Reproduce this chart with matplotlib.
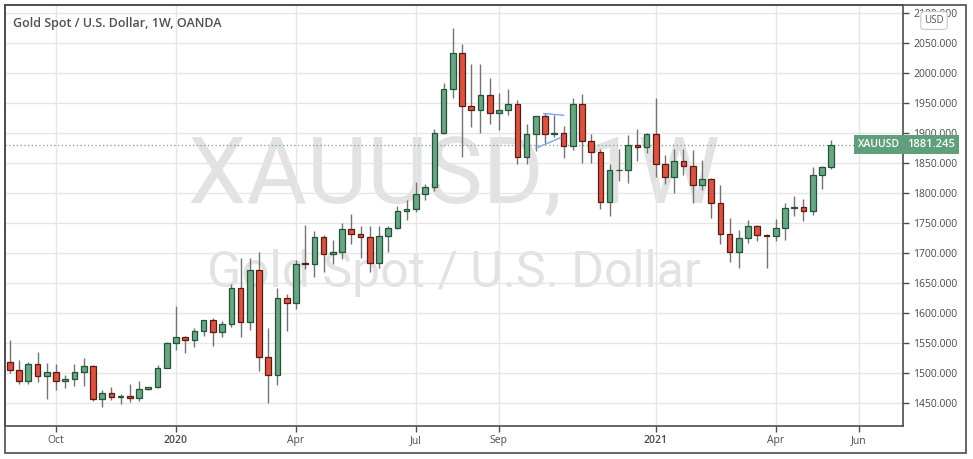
import pandas as pd
import matplotlib
matplotlib.use('Agg')
import matplotlib.pyplot as plt
import matplotlib.dates as mdates
from matplotlib.patches import Rectangle

# weekly OHLC, XAUUSD (first week starts 2019-09-02)
opens = [1519, 1506, 1488, 1516, 1496, 1503, 1488, 1490, 1503, 1513,
         1458, 1468, 1461, 1463, 1459, 1474, 1477, 1509, 1551, 1561,
         1556, 1571, 1589, 1569, 1583, 1643, 1586, 1673, 1528, 1498,
         1626, 1618, 1684, 1683, 1728, 1699, 1702, 1741, 1733, 1728,
         1684, 1729, 1743, 1771, 1774, 1798, 1810, 1901, 1974, 2034,
         1945, 1939, 1964, 1933, 1939, 1949, 1861, 1898, 1929, 1898,
         1901, 1878, 1949, 1887, 1869, 1786, 1838, 1839, 1881, 1877,
         1898, 1848, 1827, 1854, 1846, 1813, 1823, 1783, 1733, 1703,
         1726, 1745, 1731, 1729, 1743, 1776, 1777, 1771, 1831, 1843]
highs = [1556, 1523, 1519, 1535, 1518, 1516, 1498, 1516, 1525, 1514,
         1473, 1478, 1466, 1483, 1487, 1478, 1514, 1553, 1612, 1562,
         1576, 1589, 1592, 1587, 1649, 1692, 1692, 1703, 1575, 1643,
         1632, 1689, 1747, 1738, 1730, 1723, 1751, 1765, 1745, 1745,
         1745, 1745, 1778, 1788, 1818, 1815, 1907, 1983, 2075, 2049,
         2015, 2015, 1992, 1967, 1973, 1955, 1916, 1929, 1933, 1930,
         1912, 1959, 1965, 1898, 1874, 1848, 1874, 1897, 1907, 1901,
         1958, 1863, 1874, 1874, 1872, 1855, 1826, 1814, 1759, 1739,
         1755, 1747, 1732, 1758, 1783, 1796, 1790, 1843, 1846, 1889]
lows = [1501, 1482, 1482, 1485, 1457, 1473, 1475, 1479, 1479, 1454,
        1444, 1455, 1449, 1452, 1454, 1473, 1476, 1509, 1539, 1534,
        1544, 1562, 1546, 1561, 1577, 1561, 1573, 1504, 1450, 1480,
        1570, 1607, 1674, 1661, 1669, 1682, 1690, 1716, 1692, 1669,
        1676, 1702, 1741, 1756, 1769, 1788, 1804, 1898, 1959, 1860,
        1911, 1901, 1916, 1905, 1930, 1848, 1848, 1870, 1883, 1893,
        1859, 1872, 1850, 1850, 1773, 1762, 1820, 1817, 1854, 1867,
        1827, 1815, 1801, 1830, 1784, 1805, 1759, 1715, 1686, 1676,
        1717, 1721, 1676, 1721, 1722, 1762, 1754, 1764, 1807, 1841]
closes = [1506, 1488, 1516, 1496, 1503, 1488, 1490, 1503, 1513, 1458,
          1468, 1461, 1463, 1459, 1474, 1477, 1509, 1551, 1561, 1556,
          1571, 1589, 1569, 1583, 1643, 1586, 1673, 1528, 1498, 1626,
          1618, 1683, 1683, 1728, 1699, 1702, 1741, 1733, 1728, 1684,
          1729, 1743, 1771, 1774, 1798, 1810, 1901, 1974, 2034, 1945,
          1939, 1964, 1933, 1939, 1949, 1861, 1898, 1929, 1898, 1901,
          1878, 1949, 1887, 1869, 1786, 1838, 1839, 1881, 1877, 1898,
          1848, 1827, 1854, 1846, 1813, 1823, 1783, 1733, 1703, 1726,
          1745, 1731, 1729, 1743, 1776, 1777, 1771, 1831, 1843, 1881.245]

dates = pd.date_range('2019-09-02', periods=len(closes), freq='7D')

tick_dates = ['2019-10-07', '2020-01-06', '2020-04-06', '2020-07-06',
              '2020-09-07', '2021-01-04', '2021-04-05', '2021-06-07']
tick_labels = ['Oct', '2020', 'Apr', 'Jul', 'Sep', '2021', 'Apr', 'Jun']
price_ticks = list(range(1450, 2101, 50))

# the little triangle drawing
tri_top = [('2020-10-11', 1933), ('2020-10-26', 1930)]
tri_low = [('2020-10-05', 1875), ('2020-10-24', 1893)]

UP, UP_EDGE = '#6ba583', '#225437'
DN, DN_EDGE = '#d75442', '#5b1a13'
WICK = '#737375'
FRAME = '#4d4d4d'
TXT = '#4a4a4a'

plt.rcParams['font.family'] = ['Open Sans', 'DejaVu Sans']

fig = plt.figure(figsize=(9.73, 4.59), dpi=100)
ax = fig.add_axes([5 / 973, 33.3 / 459, 897.7 / 973, 421 / 459])

x = mdates.date2num(dates)
up = [c >= o for o, c in zip(opens, closes)]
bottoms = [min(o, c) for o, c in zip(opens, closes)]
heights = [max(abs(c - o), 1.2) for o, c in zip(opens, closes)]

ax.vlines(x, lows, highs, color=WICK, lw=1, zorder=2)
ax.bar(x, heights, bottom=bottoms, width=4.3,
       color=[UP if u else DN for u in up],
       edgecolor=[UP_EDGE if u else DN_EDGE for u in up],
       linewidth=0.9, zorder=3)

# last price dotted line + labels
last = closes[-1]
ax.axhline(last, color=UP, lw=0.9, ls=(0, (1, 2)), zorder=1.5)
ax.annotate('XAUUSD', xy=(0.9965, last), xycoords=('axes fraction', 'data'),
            ha='right', va='center', color='white', fontsize=7.5,
            fontweight='semibold', zorder=6,
            bbox=dict(boxstyle='square,pad=0.35', fc='#5f9f7c', ec='none'))
ax.annotate(f'{last:.3f}', xy=(1.0045, last), xycoords=('axes fraction', 'data'),
            ha='left', va='center', color='white', fontsize=8,
            fontweight='semibold', zorder=6, annotation_clip=False,
            bbox=dict(boxstyle='square,pad=0.35', fc='#5f9f7c', ec='none'))

ax.plot(mdates.datestr2num([d for d, _ in tri_top]), [p for _, p in tri_top],
        color='#7ea3e6', lw=1, zorder=4)
ax.plot(mdates.datestr2num([d for d, _ in tri_low]), [p for _, p in tri_low],
        color='#7ea3e6', lw=1, zorder=4)

# watermark
ax.text(0.5, 0.528, 'XAUUSD, 1W', transform=ax.transAxes, ha='center',
        va='baseline', fontsize=67, color='#e2e2e2', family='Roboto', zorder=0.2)
ax.text(0.5, 0.329, 'Gold Spot / U.S. Dollar', transform=ax.transAxes,
        ha='center', va='baseline', fontsize=36, color='#e2e2e2',
        family='Roboto', zorder=0.2)

ax.text(0.0093, 0.946, 'Gold Spot / U.S. Dollar, 1W, OANDA',
        transform=ax.transAxes, ha='left', va='baseline', fontsize=9,
        fontweight='semibold', color='#505050', zorder=6)

ax.set_xlim(x[0] - 3.7, x[0] + 677.3)
ax.set_ylim(1412.7, 2114.3)

ax.set_xticks(mdates.datestr2num(tick_dates))
ax.set_xticklabels(tick_labels)
for lab, txt in zip(ax.get_xticklabels(), tick_labels):
    if txt.isdigit():
        lab.set_fontweight('semibold')
ax.set_yticks(price_ticks)
ax.set_yticklabels([f'{p:.3f}' for p in price_ticks])
ax.yaxis.tick_right()
ax.tick_params(axis='both', length=4, width=1, color=FRAME, labelsize=7.5,
               labelcolor=TXT)
ax.tick_params(axis='y', pad=3.5)
ax.tick_params(axis='x', pad=3)

ax.set_axisbelow(True)
ax.grid(True, color='#e6e6e6', lw=1)
for s in ax.spines.values():
    s.set_color(FRAME)
    s.set_linewidth(1.2)

# outer frame around axes strips
fig.add_artist(Rectangle((4.5 / 973, 5.7 / 459), 961.5 / 973, 448.6 / 459,
                         transform=fig.transFigure, fill=False,
                         ec=FRAME, lw=1.2))

fig.text(934 / 973, 1 - 20.5 / 459, 'USD', ha='center', va='center',
         fontsize=7, color='#555555', zorder=10,
         bbox=dict(boxstyle='round,pad=0.35,rounding_size=0.3', fc='white',
                   ec='#c8c8c8', lw=0.8))

fig.savefig('out.png', dpi=100)
